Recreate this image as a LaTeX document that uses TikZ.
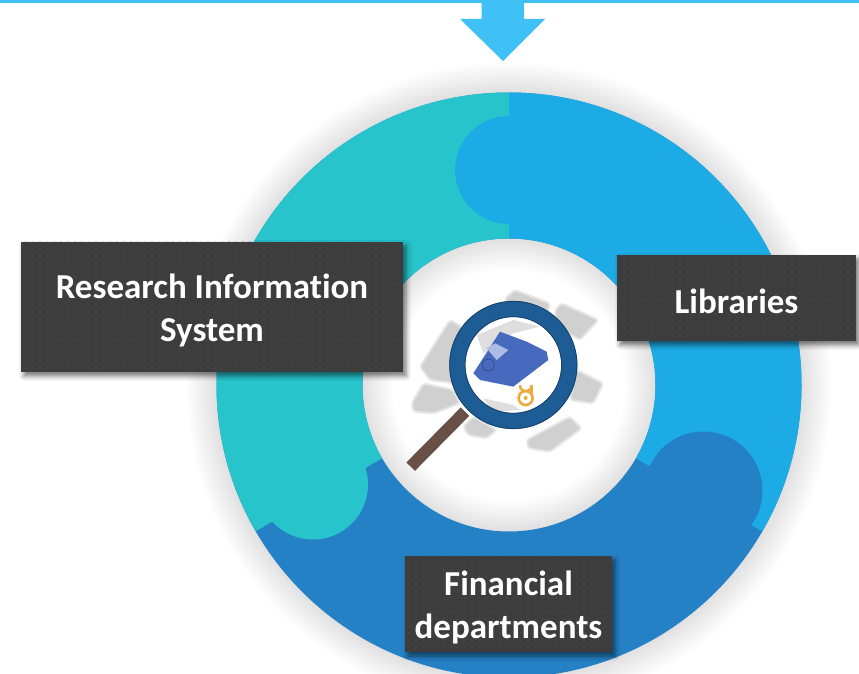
\documentclass[tikz,border=0pt]{standalone}
\usepackage{fontspec}
\setmainfont[Ligatures=NoCommon]{Carlito}
\usetikzlibrary{shadows.blur,patterns.meta}
\definecolor{arrowBlue}{RGB}{63,193,245}
\definecolor{segTeal}{RGB}{39,196,204}
\definecolor{segBlue}{RGB}{29,171,229}
\definecolor{segDark}{RGB}{37,129,198}
\definecolor{boxGray}{RGB}{61,61,61}
\definecolor{boxDot}{RGB}{88,88,88}
\definecolor{bookGray}{RGB}{208,208,208}
\definecolor{bookBlue}{RGB}{72,106,190}
\definecolor{lensBlue}{RGB}{30,92,150}
\definecolor{handleBrown}{RGB}{105,80,70}
\definecolor{lockOrange}{RGB}{236,170,60}
\newcommand{\toppad}{\rule{0pt}{32pt}}
\tikzset{
  labelbox/.style={fill=boxGray,postaction={pattern={Dots[distance=6.5pt,radius=0.7pt]},pattern color=boxDot},
    text=white,align=center,inner sep=0pt,font=\fontsize{35}{43}\selectfont\bfseries,
    blur shadow={shadow xshift=3pt,shadow yshift=-4pt,shadow blur radius=5pt,shadow opacity=55}},
  book/.style={fill=bookGray,draw=bookGray!55,line width=2pt,line join=round,rounded corners=3pt}
}

\begin{document}
\begin{tikzpicture}[x=1pt,y=1pt]
\useasboundingbox (0,0) rectangle (859,673);
\clip (0,0) rectangle (859,673);

% Soft glow around the ring
\begin{scope}[shift={(509,288)}]
\foreach \g in {1,...,15}
  \fill[black,opacity=0.006,even odd rule] (0,0) circle ({292.5+2*\g}) (0,0) circle ({146.5-2*\g});

% Three ring segments, seams at 90, -30 and 210 degrees
\fill[segDark,even odd rule] (0,0) circle (292.5) (0,0) circle (146.5);
\fill[segTeal] (90:292.5) arc[start angle=90,end angle=210,radius=292.5]
  -- (210:146.5) arc[start angle=210,end angle=90,radius=146.5] -- cycle;
\fill[segTeal] (-196,-99.5) circle (55);
\fill[segBlue] (90:292.5) arc[start angle=90,end angle=-30,radius=292.5]
  -- (-30:146.5) arc[start angle=-30,end angle=90,radius=146.5] -- cycle;
\fill[segBlue] (0,215) circle (54);
\fill[segDark] (194.5,-105.5) circle (59);
\end{scope}

% Arrow coming down from the top line
\fill[arrowBlue] (0,670) rectangle (859,673);
\fill[arrowBlue] (481.5,673) -- (524,673) -- (524,654) -- (545,654) -- (503,612) -- (460,654) -- (481.5,654) -- cycle;

% Magnifier icon (coordinates taken from the crop, 3 units per pixel)
\begin{scope}[shift={(380,403)},x=0.3333pt,y=-0.3333pt]
\fill[book] (375,85) -- (405,60) -- (510,100) -- (500,140) -- (400,190) -- cycle;
\fill[book] (525,120) -- (545,100) -- (655,150) -- (600,210) -- (530,170) -- cycle;
\fill[book] (590,300) -- (670,340) -- (640,400) -- (570,390) -- cycle;
\fill[book] (440,510) -- (570,440) -- (605,475) -- (510,545) -- (445,535) -- cycle;
\fill[book] (250,470) -- (280,440) -- (350,480) -- (320,505) -- (265,495) -- cycle;
\fill[book] (95,400) -- (130,340) -- (220,360) -- (240,400) -- (160,430) -- (100,425) -- cycle;
\fill[book] (120,290) -- (210,150) -- (245,170) -- (225,340) -- (150,330) -- cycle;
\draw[handleBrown,line width=12pt] (255,425) -- (92,590);
\fill[white] (400,285) circle (145);
\fill[bookGray!70] (290,195) -- (400,150) -- (480,170) -- (400,190) -- (310,250) -- cycle;
\fill[bookGray!70] (310,385) -- (400,405) -- (420,420) -- (340,425) -- cycle;
\fill[bookBlue] (280,310) -- (360,185) -- (440,215) -- (500,245) -- (505,270) -- (400,350) -- (300,330) -- cycle;
\fill[bookBlue!45] (320,235) -- (345,220) -- (385,240) -- (350,270) -- cycle;
\draw[bookBlue!65!black,line width=0.6pt] (325,285) circle (18);
\fill[white] (437,380) circle (38);
\draw[lockOrange,line width=2.6pt] (437,384) circle (21);
\draw[lockOrange,line width=2.6pt] (420,346) arc[start angle=180,end angle=0,radius=17.5] -- (455,370);
\fill[lockOrange] (437,384) circle (6);
\draw[lensBlue,line width=16pt] (400,285) circle (168);
\draw[lensBlue!70!black,line width=0.8pt] (400,285) circle (191);
\draw[lensBlue!70!black,line width=0.8pt] (400,285) circle (145);
\end{scope}

% Labels on the ring
\node[labelbox,minimum width=382pt,minimum height=130pt] (ris) at (212,366) {\toppad Research Information\\System};
\node[labelbox,minimum width=239pt,minimum height=86pt] (libraries) at (736.5,375) {\toppad Libraries};
\node[labelbox,minimum width=207pt,minimum height=96pt] (financial) at (508.5,69) {\toppad Financial\\departments};

\end{tikzpicture}
\end{document}
